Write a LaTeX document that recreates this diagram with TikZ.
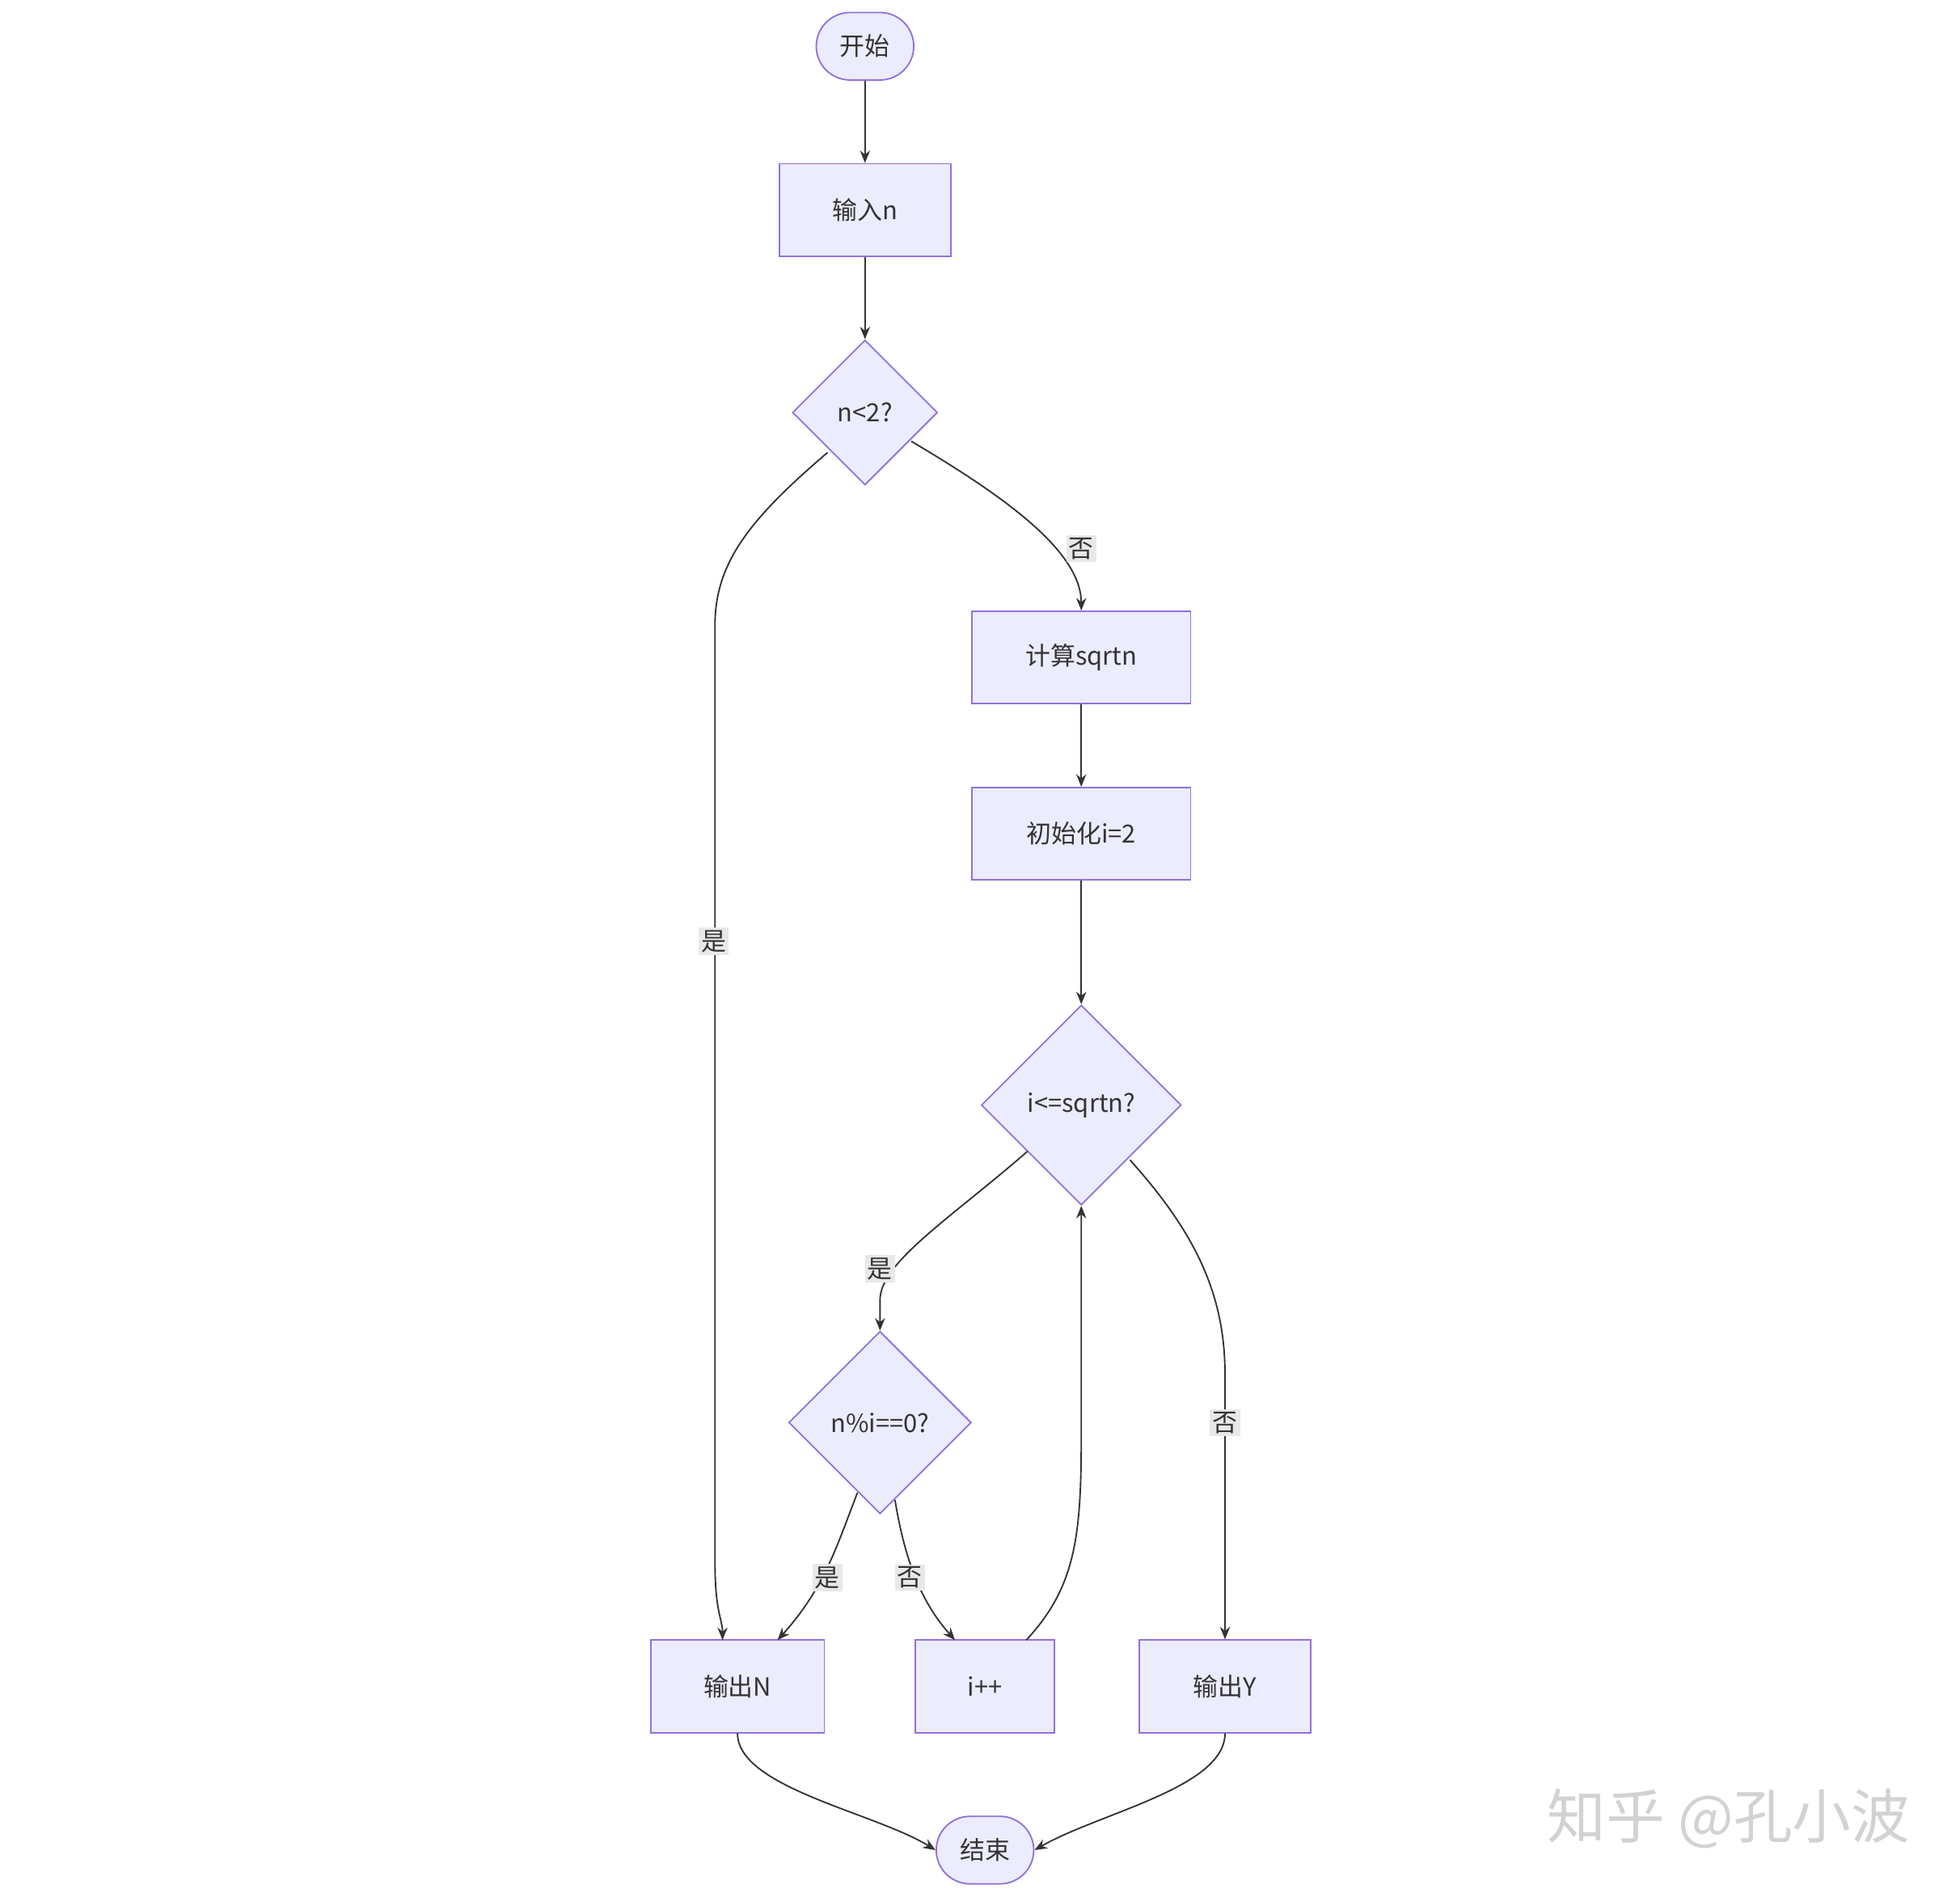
\documentclass[tikz,border=0pt]{standalone}
\usepackage{fontspec}
\setmainfont{Noto Sans CJK SC}
\usetikzlibrary{shapes.geometric,arrows.meta}
\definecolor{nfill}{HTML}{ECECFF}
\definecolor{nline}{HTML}{9370DB}
\definecolor{eline}{HTML}{333333}
\definecolor{lbg}{HTML}{E8E8E8}
\begin{document}
\begin{tikzpicture}[x=0.5pt,y=-0.5pt,
  every node/.style={font=\fontsize{10}{12}\selectfont,text=eline},
  box/.style={draw=nline,fill=nfill,line width=0.6pt,minimum height=37pt,inner sep=0pt},
  term/.style={draw=nline,fill=nfill,line width=0.6pt,rounded corners=13.5pt,minimum width=39pt,minimum height=27pt,inner sep=0pt},
  dia/.style={draw=nline,fill=nfill,line width=0.6pt,diamond,aspect=1,inner sep=0pt},
  edge/.style={draw=eline,line width=0.6pt,-{Stealth[length=5pt,width=4pt]}},
  lab/.style={fill=lbg,inner sep=1pt,font=\fontsize{10}{12}\selectfont}]
\useasboundingbox (0,0) rectangle (1568,1517);
\node[term] (start) at (692,37) {开始};
\node[box,minimum width=68.5pt] (in) at (692,168) {输入n};
\node[dia,minimum size=58pt] (d1) at (692,330) {n<2?};
\node[box,minimum width=87.5pt] (sq) at (865,526) {计算sqrtn};
\node[box,minimum width=87.5pt] (init) at (865,667) {初始化i=2};
\node[dia,minimum size=80pt] (d2) at (865,884) {i<=sqrtn?};
\node[dia,minimum size=73pt] (d3) at (704,1138) {n\%i==0?};
\node[box,minimum width=69.5pt] (on) at (590,1349) {输出N};
\node[box,minimum width=55.5pt] (ip) at (788,1349) {i++};
\node[box,minimum width=68.5pt] (oy) at (980,1349) {输出Y};
\node[term] (end) at (788,1480) {结束};
\node[text=gray!35,font=\fontsize{23.5}{26}\selectfont] (wm) at (1383,1455) {知乎 @孔小波};

\path[edge] (start) -- (in);
\path[edge] (in) -- (d1);
\coordinate (a1) at (662,362);
\coordinate (b1) at (578,1312);
\path[edge] (a1) .. controls (600,415) and (572,450) .. (572,500) -- (572,1250) .. controls (572,1290) and (578,1295) .. (b1);
\node[lab] at (571,753) {是};
\coordinate (c1) at (729,353);
\path[edge] (c1) .. controls (800,395) and (865,440) .. (sq.north);
\node[lab] at (865,439) {否};
\path[edge] (sq) -- (init);
\path[edge] (init) -- (d2);
\coordinate (e1) at (822,921);
\path[edge] (e1) .. controls (760,975) and (704,1010) .. (704,1040) -- (d3.north);
\node[lab] at (704,1015) {是};
\coordinate (f1) at (904,928);
\path[edge] (f1) .. controls (960,990) and (980,1040) .. (980,1100) -- (oy.north);
\node[lab] at (980,1138) {否};
\coordinate (g1) at (686,1194);
\coordinate (g2) at (622,1312);
\path[edge] (g1) .. controls (670,1235) and (660,1270) .. (g2);
\node[lab] at (662,1262) {是};
\coordinate (h1) at (716,1200);
\coordinate (h2) at (764,1312);
\path[edge] (h1) .. controls (725,1255) and (740,1285) .. (h2);
\node[lab] at (728,1262) {否};
\coordinate (k1) at (821,1312);
\path[edge] (k1) .. controls (860,1270) and (865,1230) .. (865,1150) -- (d2.south);
\path[edge] (on.south) .. controls (590,1430) and (700,1450) .. (end.west);
\path[edge] (oy.south) .. controls (980,1430) and (880,1450) .. (end.east);
\end{tikzpicture}
\end{document}
